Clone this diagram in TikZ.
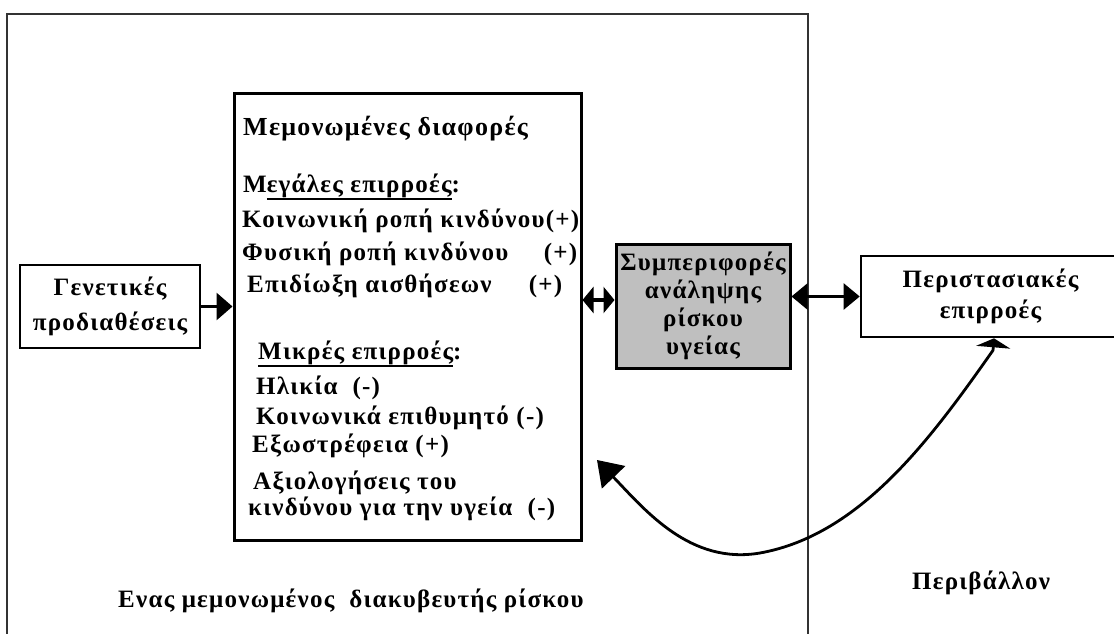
\documentclass[tikz,border=0pt]{standalone}
\usepackage{fontspec}
\setmainfont[LetterSpace=5]{Liberation Serif}
\usetikzlibrary{arrows.meta}
\newcommand\myul[1]{\setbox0\hbox{#1}\rlap{\rule[-\dimexpr\dp0+2.5pt\relax]{\wd0}{2pt}}\box0}
\tikzset{
  txt/.style={anchor=mid west, inner sep=0pt},
  blk/.style={draw=black, line width=2.6pt, inner sep=0pt},
  fatarrow/.style={line width=3pt, -{Triangle[width=27pt,length=16pt]}},
  dblfat/.style={line width=4pt, {Triangle[width=26pt,length=11pt]}-{Triangle[width=26pt,length=11pt]}},
  dblthin/.style={line width=2.2pt, {Triangle[width=26pt,length=16pt]}-{Triangle[width=26pt,length=16pt]}},
  curvearrow/.style={line width=2.8pt, {Triangle[width=34pt,length=9pt]}-{Triangle[width=32pt,length=24pt]}},
}
\begin{document}
\begin{tikzpicture}[x=1pt,y=-1pt,font=\fontsize{25}{28}\selectfont\bfseries]
\useasboundingbox (0,0) rectangle (1114,634);
\fill[white] (0,0) rectangle (1114,634);
% outer environment frame
\draw[line width=1.6pt, black!80] (7,640) -- (7,14) -- (808,14) -- (808,640);
% boxes
\node[blk, line width=3pt, minimum width=347pt, minimum height=447pt] (mid) at (407.5,316.5) {};
\node[blk, minimum width=180pt, minimum height=83pt, align=center] (gen) at (110,306.5)
  {Γενετικές\\[7pt]προδιαθέσεις};
\node[blk, line width=3pt, fill=black!25, minimum width=174pt, minimum height=124pt, align=center] (gray) at (703,306)
  {Συμπεριφορές\\ανάληψης\\ρίσκου\\υγείας};
\node[blk, minimum width=259pt, minimum height=81pt, align=center] (env) at (990.5,296.5)
  {Περιστασιακές\\[3pt]επιρροές};
% texts inside middle box
\node[txt, font=\fontsize{26}{30}\selectfont\bfseries] (t1) at (243,133) {Μεμονωμένες διαφορές};
\node[txt] (t2) at (243,190) {Μ\myul{εγάλες επιρροές}:};
\node[txt] (t3) at (242,225) {Κοινωνική ροπή κινδύνου(+)};
\node[txt] (t4) at (242,258) {\hbox to 335pt{Φυσική ροπή κινδύνου\hfill(+)}};
\node[txt] (t5) at (247,290) {\hbox to 315pt{Επιδίωξη αισθήσεων\hfill(+)}};
\node[txt] (t6) at (258,357) {\myul{Μικρές επιρροές}:};
\node[txt] (t7) at (256,392) {Ηλικία\ \ (-)};
\node[txt] (t8) at (256,422) {Κοινωνικά επιθυμητό (-)};
\node[txt] (t9) at (252,450) {Εξωστρέφεια (+)};
\node[txt] (t10) at (253,487) {Αξιολογήσεις του};
\node[txt] (t11) at (248,513) {\hbox to 307pt{κινδύνου για την υγεία\hfill(-)}};
% labels
\node[txt] (lenv) at (912,587) {Περιβάλλον};
\node[txt] (lind) at (118,605) {Ενας μεμονωμένος\ \ διακυβευτής ρίσκου};
% connectors
\draw[fatarrow] (gen.east) -- (gen.east -| mid.west);
\draw[dblfat] ([yshift=6pt]gray.west -| mid.east) -- ([yshift=6pt]gray.west);
\draw[dblthin] (gray.east |- env.west) -- (env.west);
\coordinate (cstart) at ([xshift=3.5pt]env.south);
\coordinate (ctip) at (597,460);
\draw[curvearrow] (cstart) -- ++(-1,12) .. controls (930,440) and (860,535) .. (760,553)
  .. controls (690,565) and (645,510) .. (ctip);
\end{tikzpicture}
\end{document}
